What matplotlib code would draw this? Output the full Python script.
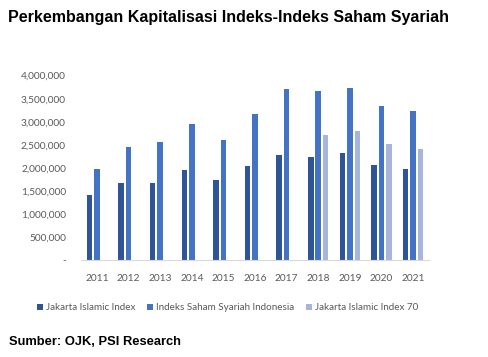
import matplotlib
matplotlib.use("Agg")
import matplotlib.pyplot as plt
import numpy as np
from matplotlib.ticker import FuncFormatter

years = ["2011", "2012", "2013", "2014", "2015", "2016", "2017", "2018", "2019", "2020", "2021"]
jii = [1410000, 1680000, 1680000, 1950000, 1740000, 2030000, 2280000, 2230000, 2320000, 2060000, 1970000]
issi = [1970000, 2450000, 2550000, 2950000, 2600000, 3170000, 3700000, 3660000, 3740000, 3340000, 3240000]
jii70 = [None, None, None, None, None, None, None, 2710000, 2800000, 2520000, 2410000]
series_names = ["Jakarta Islamic Index", "Indeks Saham Syariah Indonesia", "Jakarta Islamic Index 70"]
colors = ["#2F5597", "#4472C4", "#A7B5DC"]

fig = plt.figure(figsize=(4.89, 3.57), dpi=100)
ax = fig.add_axes([0.166, 0.272, 0.711, 0.516])

x = np.arange(len(years))
slot = 0.237
w = 0.175
ax.bar(x - slot, jii, width=w, color=colors[0], label=series_names[0])
ax.bar(x, issi, width=w, color=colors[1], label=series_names[1])
j70_x = [xi + slot for xi, v in zip(x, jii70) if v is not None]
j70_v = [v for v in jii70 if v is not None]
ax.bar(j70_x, j70_v, width=w, color=colors[2], label=series_names[2])

ax.set_xlim(-0.5, len(years) - 0.5)
ax.set_ylim(0, 4000000)
ax.set_yticks(np.arange(0, 4000001, 500000))
ax.yaxis.set_major_formatter(FuncFormatter(lambda v, p: "-" if v == 0 else f"{int(v):,}"))
ax.set_xticks(x)
ax.set_xticklabels(years)

for s in ["top", "right", "left"]:
    ax.spines[s].set_visible(False)
ax.spines["bottom"].set_color("#D9D9D9")
ax.spines["bottom"].set_linewidth(0.8)
ax.tick_params(axis="both", length=0, colors="#595959", labelsize=7.3)
ax.tick_params(axis="y", pad=11)
ax.tick_params(axis="x", pad=10.5)
for lbl in ax.get_xticklabels() + ax.get_yticklabels():
    lbl.set_family("Lato")

fig.text(0.016, 0.950, "Perkembangan Kapitalisasi Indeks-Indeks Saham Syariah",
         fontsize=11.5, fontweight="bold", family="Liberation Sans", va="center", ha="left")
fig.text(0.018, 0.043, "Sumber: OJK, PSI Research",
         fontsize=9.3, fontweight="bold", family="Liberation Sans", va="center", ha="left")

leg = fig.legend(loc="center", bbox_to_anchor=(0.465, 0.138), ncol=3, frameon=False,
                 handlelength=0.6, handleheight=0.6, handletextpad=0.3, columnspacing=1.2,
                 prop={"family": "Lato", "size": 7.1})
for t in leg.get_texts():
    t.set_color("#595959")

fig.savefig("out.png", dpi=100)
